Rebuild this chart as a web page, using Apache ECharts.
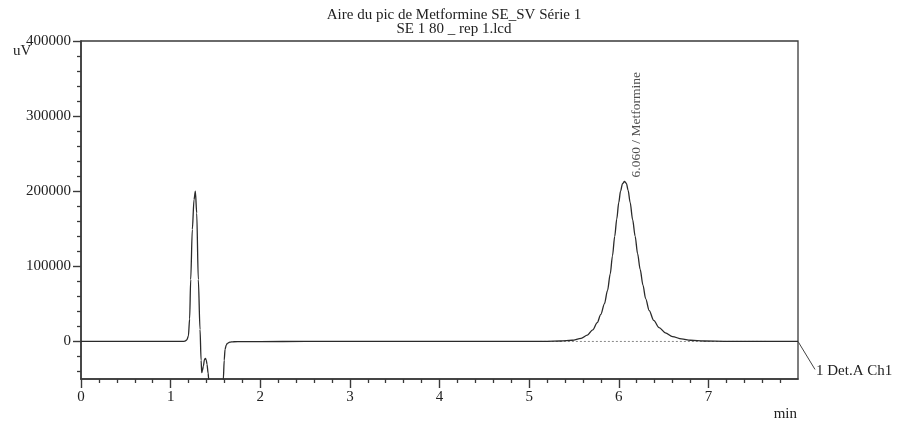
<!DOCTYPE html>
<html>
<head>
<meta charset="utf-8">
<script src="https://cdn.jsdelivr.net/npm/echarts@6/dist/echarts.min.js"></script>
<style>html,body{margin:0;padding:0;background:#fff}#c{width:897px;height:425px}</style>
</head>
<body>
<div id="c"></div>
<script>
// ---- data ----
const titleLines = ["Aire du pic de Metformine SE_SV Série 1", "SE 1 80 _ rep 1.lcd"];
const yMajorTicks = [0, 100000, 200000, 300000, 400000];
const yMinorTicks = [-40000, -20000, 20000, 40000, 60000, 80000, 120000, 140000, 160000, 180000, 220000, 240000, 260000, 280000, 320000, 340000, 360000, 380000];
const xMajorTicks = [0, 1, 2, 3, 4, 5, 6, 7];
const xMinorTicks = [0.2,0.4,0.6,0.8,1.2,1.4,1.6,1.8,2.2,2.4,2.6,2.8,3.2,3.4,3.6,3.8,4.2,4.4,4.6,4.8,5.2,5.4,5.6,5.8,6.2,6.4,6.6,6.8,7.2,7.4,7.6,7.8];
const timeMin = [0, 0.5, 1.0, 1.1, 1.15, 1.161, 1.18, 1.198, 1.212, 1.224, 1.242, 1.261, 1.276, 1.291, 1.309, 1.328, 1.340, 1.347, 1.356, 1.365, 1.378, 1.388, 1.398, 1.406, 1.418, 1.425, 1.44, 1.5, 1.56, 1.588, 1.598, 1.607, 1.620, 1.633, 1.66, 1.7, 1.8, 2.0, 2.5, 3.0, 4.0, 5.0, 5.2, 5.35, 5.48, 5.58, 5.65, 5.71, 5.76, 5.80, 5.84, 5.875, 5.905, 5.93, 5.955, 5.978, 6.0, 6.02, 6.042, 6.064, 6.085, 6.105, 6.127, 6.155, 6.183, 6.21, 6.239, 6.27, 6.30, 6.34, 6.39, 6.45, 6.52, 6.60, 6.70, 6.80, 6.95, 7.2, 7.6, 8.0];
const signalUV = [0, 0, 0, 0, 200, 500, 2000, 7000, 30000, 82400, 149000, 188700, 200000, 171000, 82400, 16000, -25000, -41600, -38000, -32800, -24000, -22600, -25000, -30500, -42000, -50500, -90000, -150000, -100000, -50500, -25000, -10600, -5000, -2700, -1000, -400, -300, -200, 0, 0, 0, 0, 200, 600, 1600, 4200, 8500, 15500, 25000, 36000, 50000, 68000, 90000, 114000, 140000, 163000, 185000, 200000, 210000, 213000, 210500, 201000, 185000, 162000, 140000, 117000, 96000, 75000, 57000, 41000, 28000, 18500, 11500, 6500, 3300, 1600, 600, 200, 0, 0];
const baselineT = [5.12, 7.65];
const baselineV = [0, 0];
const peakTime = 6.064;
const peakHeight = 213000;
const peakLabel = "6.060 / Metformine";
const channelLabel = "1 Det.A Ch1";

const FONT = "'Liberation Serif', 'DejaVu Serif', serif";
const axisColor = '#3a3a3a';
const chart = echarts.init(document.getElementById('c'), null, {renderer: 'canvas'});

const sig = timeMin.map((t, i) => [t, signalUV[i]]);
const base = baselineT.map((t, i) => [t, baselineV[i]]);

const tickLabelStyle = {fontFamily: FONT, fontSize: 15, color: '#222'};

chart.setOption({
  animation: false,
  backgroundColor: '#fff',
  title: {
    text: titleLines.join('\n'),
    left: 449, top: 3, textAlign: 'center',
    textStyle: {fontFamily: FONT, fontSize: 15, fontWeight: 'normal', color: '#222', lineHeight: 14}
  },
  grid: {left: 81, right: 99, top: 41, bottom: 46, show: true, borderColor: axisColor, borderWidth: 1.3, backgroundColor: 'transparent'},
  xAxis: [{
    type: 'value', min: 0, max: 8, position: 'bottom',
    axisLine: {show: true, onZero: false, lineStyle: {color: axisColor, width: 1.6}},
    axisTick: {show: true, customValues: xMajorTicks, length: 9, inside: false, lineStyle: {color: axisColor, width: 1.4}},
    axisLabel: {show: true, customValues: xMajorTicks, margin: 11, ...tickLabelStyle},
    splitLine: {show: false}
  }, {
    type: 'value', min: 0, max: 8, position: 'bottom', offset: 0,
    axisLine: {show: false, onZero: false},
    axisTick: {show: true, customValues: xMinorTicks, length: 4, lineStyle: {color: axisColor, width: 1.3}},
    axisLabel: {show: false},
    splitLine: {show: false}
  }],
  yAxis: [{
    type: 'value', min: -50000, max: 400000, position: 'left',
    axisLine: {show: true, onZero: false, lineStyle: {color: axisColor, width: 1.6}},
    axisTick: {show: true, customValues: yMajorTicks, length: 8, lineStyle: {color: axisColor, width: 1.4}},
    axisLabel: {show: true, customValues: yMajorTicks, margin: 10, formatter: v => String(v), ...tickLabelStyle},
    splitLine: {show: false}
  }, {
    type: 'value', min: -50000, max: 400000, position: 'left', offset: 0,
    axisLine: {show: false, onZero: false},
    axisTick: {show: true, customValues: yMinorTicks, length: 4, lineStyle: {color: axisColor, width: 1.3}},
    axisLabel: {show: false},
    splitLine: {show: false}
  }],
  series: [{
    type: 'line', data: base, xAxisIndex: 0, yAxisIndex: 0,
    showSymbol: false, symbol: 'none',
    lineStyle: {color: '#888', width: 1, type: [2, 2]}, z: 2
  }, {
    type: 'line', data: sig, xAxisIndex: 0, yAxisIndex: 0,
    showSymbol: false, symbol: 'none', smooth: 0.3, smoothMonotone: 'x', clip: true,
    lineStyle: {color: '#2a2a2a', width: 1.3}, z: 3
  }, {
    type: 'scatter', data: [[peakTime, peakHeight]], symbolSize: 0.1, xAxisIndex: 0, yAxisIndex: 0,
    label: {show: true, formatter: peakLabel, position: 'inside', rotate: 90, align: 'left', verticalAlign: 'middle',
      offset: [4, 12], fontFamily: FONT, fontSize: 13.5, color: '#222'},
    z: 4
  }]
});

const p = chart.convertToPixel({gridIndex: 0}, [8, 0]);
chart.setOption({
  graphic: [
    {type: 'line', shape: {x1: p[0], y1: p[1], x2: p[0] + 17, y2: p[1] + 28}, style: {stroke: '#444', lineWidth: 1}},
    {type: 'text', x: p[0] + 18, y: p[1] + 30, style: {text: channelLabel, fontFamily: FONT, fontSize: 15, fill: '#222', verticalAlign: 'middle'}},
    {type: 'text', x: 13, y: 51, style: {text: 'uV', fontFamily: FONT, fontSize: 15, fill: '#222', verticalAlign: 'middle'}},
    {type: 'text', x: 797, y: 414, style: {text: 'min', fontFamily: FONT, fontSize: 15, fill: '#222', align: 'right', verticalAlign: 'middle'}}
  ]
});
</script>
</body>
</html>
